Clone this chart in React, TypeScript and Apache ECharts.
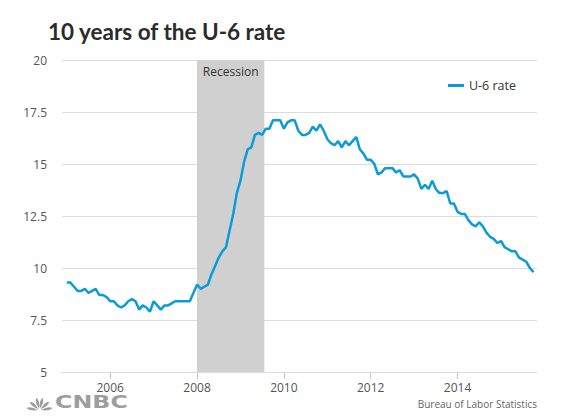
import React, { useEffect, useRef } from "react";
import * as echarts from "echarts";

const startYear = 2005;
const u6Rate: number[] = [
  // 2005
  9.3, 9.3, 9.1, 8.9, 8.9, 9.0, 8.8, 8.9, 9.0, 8.7, 8.7, 8.6,
  // 2006
  8.4, 8.4, 8.2, 8.1, 8.2, 8.4, 8.5, 8.4, 8.0, 8.2, 8.1, 7.9,
  // 2007
  8.4, 8.2, 8.0, 8.2, 8.2, 8.3, 8.4, 8.4, 8.4, 8.4, 8.4, 8.8,
  // 2008
  9.2, 9.0, 9.1, 9.2, 9.7, 10.1, 10.5, 10.8, 11.0, 11.8, 12.6, 13.6,
  // 2009
  14.2, 15.1, 15.7, 15.8, 16.4, 16.5, 16.4, 16.7, 16.7, 17.1, 17.1, 17.1,
  // 2010
  16.7, 17.0, 17.1, 17.1, 16.6, 16.4, 16.4, 16.5, 16.8, 16.6, 16.9, 16.6,
  // 2011
  16.2, 16.0, 15.9, 16.1, 15.8, 16.1, 15.9, 16.1, 16.3, 15.7, 15.5, 15.2,
  // 2012
  15.2, 15.0, 14.5, 14.6, 14.8, 14.8, 14.8, 14.6, 14.7, 14.4, 14.4, 14.4,
  // 2013
  14.5, 14.3, 13.8, 14.0, 13.8, 14.2, 13.8, 13.6, 13.6, 13.7, 13.1, 13.1,
  // 2014
  12.7, 12.6, 12.6, 12.3, 12.1, 12.0, 12.2, 12.0, 11.7, 11.5, 11.4, 11.2,
  // 2015
  11.3, 11.0, 10.9, 10.8, 10.8, 10.5, 10.4, 10.3, 10.0, 9.8,
];

// decimal years
const recessionStart = 2008.0;
const recessionEnd = 2009.55;
const xTickYears = [2006, 2008, 2010, 2012, 2014];
const yTicks = [5, 7.5, 10, 12.5, 15, 17.5, 20];
const axisMin = 2004.89;
const axisMax = 2015.83;

function monthYear(i: number): number {
  return startYear + Math.floor(i / 12) + (i % 12) / 12;
}

function peacockPath(): string {
  const bx = 50, by = 70;
  const angles = [170, 138, 104, 76, 42, 10];
  const L = 48;
  const w = 11;
  let d = "";
  for (const a of angles) {
    const r = (a * Math.PI) / 180;
    const dx = Math.cos(r), dy = -Math.sin(r);
    const px = -dy, py = dx;
    const sx = bx + dx * 6, sy = by + dy * 6;
    const tx = bx + dx * L, ty = by + dy * L;
    const m1x = bx + dx * L * 0.75 + px * w, m1y = by + dy * L * 0.75 + py * w;
    const m2x = bx + dx * L * 0.75 - px * w, m2y = by + dy * L * 0.75 - py * w;
    d += `M${sx.toFixed(1)} ${sy.toFixed(1)} Q${m1x.toFixed(1)} ${m1y.toFixed(1)} ${tx.toFixed(1)} ${ty.toFixed(1)} Q${m2x.toFixed(1)} ${m2y.toFixed(1)} ${sx.toFixed(1)} ${sy.toFixed(1)} Z `;
  }
  return d;
}

let registered = false;

export default function App() {
  const ref = useRef<HTMLDivElement>(null);

  useEffect(() => {
    if (!ref.current) return;
    if (!registered) {
      echarts.graphic.registerShape("peacock", echarts.graphic.extendPath(peacockPath(), {}) as any);
      registered = true;
    }
    const chart = echarts.init(ref.current, null, { renderer: "svg" });
    const data = u6Rate.map((v, i) => [monthYear(i), v]);
    const labelFont = "'Open Sans', 'Noto Sans', sans-serif";

    chart.setOption({
      animation: false,
      backgroundColor: "#ffffff",
      title: {
        text: "10 years of the U-6 rate",
        left: 43,
        top: 15,
        textStyle: {
          fontFamily: "Lato, sans-serif",
          fontWeight: 700,
          fontSize: 22.5,
          color: "#2b2b2b",
        },
      },
      legend: {
        data: [{ name: "U-6 rate", icon: "rect" }],
        right: 57,
        top: 74,
        itemWidth: 16,
        itemHeight: 3,
        itemGap: 5,
        textStyle: { fontFamily: labelFont, fontSize: 12.5, color: "#333" },
      },
      grid: { left: 62, right: 41, top: 60, bottom: 48 },
      xAxis: {
        type: "value",
        min: axisMin,
        max: axisMax,
        axisLine: { show: true, onZero: false, lineStyle: { color: "#b9c9d9", width: 1 } },
        axisTick: {
          show: true,
          length: 7,
          lineStyle: { color: "#b9c9d9" },
          customValues: xTickYears,
        },
        axisLabel: {
          customValues: xTickYears,
          formatter: (v: number) => String(Math.round(v)),
          fontFamily: labelFont,
          fontSize: 12,
          color: "#555",
          margin: 9,
        },
        splitLine: { show: false },
      },
      yAxis: {
        type: "value",
        min: 5,
        max: 20,
        interval: 2.5,
        z: 1,
        axisLine: { show: false },
        axisTick: { show: false },
        axisLabel: {
          fontFamily: labelFont,
          fontSize: 12,
          color: "#555",
          margin: 15,
          formatter: (v: number) => (yTicks.includes(v) ? String(v) : ""),
        },
        splitLine: {
          show: true,
          lineStyle: { color: "#dcdcdc", width: 1 },
        },
      },
      series: [
        {
          name: "recession",
          type: "line",
          data: [],
          z: 0,
          silent: true,
          markArea: {
            silent: true,
            itemStyle: { color: "#d0d0d0" },
            label: {
              show: true,
              position: "insideTop",
              distance: 5,
              fontFamily: labelFont,
              fontSize: 12,
              color: "#333",
            },
            data: [
              [
                { name: "Recession", xAxis: recessionStart },
                { xAxis: recessionEnd },
              ],
            ],
          },
        },
        {
          name: "U-6 rate",
          type: "line",
          data,
          z: 3,
          symbol: "none",
          lineStyle: { color: "#0a9bd8", width: 2.5 },
          itemStyle: { color: "#0a9bd8" },
        },
      ],
      graphic: [
        {
          type: "peacock",
          x: 26,
          y: 392,
          scaleX: 0.27,
          scaleY: 0.26,
          style: { fill: "#9d9d9d" },
        },
        {
          type: "text",
          x: 55,
          y: 393,
          scaleX: 1.32,
          style: {
            text: "CNBC",
            fontFamily: "'DejaVu Sans', sans-serif",
            fontWeight: "bold",
            fontSize: 18,
            fill: "#9d9d9d",
          },
        },
        {
          type: "text",
          right: 41,
          top: 399,
          style: {
            text: "Bureau of Labor Statistics",
            fontFamily: labelFont,
            fontSize: 10,
            fill: "#666",
          },
        },
      ],
    });
    return () => chart.dispose();
  }, []);

  return (
    <div
      ref={ref}
      style={{ position: "fixed", left: 0, top: 0, width: 578, height: 420 }}
    />
  );
}
